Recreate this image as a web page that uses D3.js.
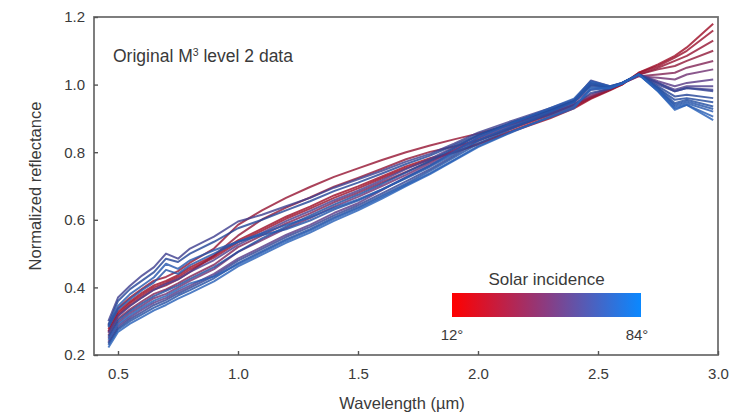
<!DOCTYPE html>
<html>
<head>
<meta charset="utf-8">
<script src="https://cdn.jsdelivr.net/npm/d3@7"></script>
<style>
  html, body { margin: 0; padding: 0; background: #fff; }
  svg { display: block; font-family: "Liberation Sans", Arial, Helvetica, sans-serif; }
</style>
</head>
<body>
<svg id="chart" width="735" height="413"></svg>
<script>
// Wavelength sampling (µm) shared by every spectrum
const wavelengths = [0.46, 0.50, 0.55, 0.60, 0.65, 0.70, 0.75, 0.80, 0.90, 1.00,
  1.10, 1.20, 1.30, 1.40, 1.50, 1.60, 1.70, 1.80, 1.90, 2.00,
  2.15, 2.30, 2.40, 2.47, 2.55, 2.60, 2.67, 2.75, 2.82, 2.87, 2.98];

// Solar incidence angle (degrees) of each spectrum
const incidence = [12, 18, 24, 30, 37, 44, 51, 55, 58, 61, 65, 69, 72, 75, 78, 81, 84];

// Normalized reflectance, one array per incidence angle
const r12 = [0.277,0.328,0.358,0.384,0.406,0.419,0.436,0.459,0.494,0.539,0.574,0.609,0.639,0.672,0.699,0.728,0.758,0.782,0.800,0.823,0.863,0.900,0.930,0.958,0.983,1.000,1.035,1.060,1.085,1.110,1.180];
const r18 = [0.270,0.322,0.353,0.378,0.400,0.413,0.430,0.453,0.488,0.533,0.568,0.603,0.633,0.665,0.693,0.723,0.753,0.778,0.799,0.825,0.866,0.904,0.933,0.960,0.985,1.000,1.035,1.055,1.080,1.100,1.160];
const r24 = [0.287,0.338,0.370,0.396,0.420,0.431,0.448,0.473,0.515,0.585,0.628,0.665,0.697,0.727,0.752,0.777,0.800,0.820,0.838,0.855,0.885,0.915,0.940,0.962,0.985,1.003,1.030,1.050,1.070,1.085,1.130];
const r30 = [0.268,0.317,0.347,0.371,0.394,0.406,0.424,0.446,0.494,0.553,0.601,0.636,0.666,0.698,0.724,0.751,0.779,0.801,0.817,0.835,0.872,0.910,0.938,0.962,0.985,1.003,1.030,1.045,1.055,1.070,1.100];
const r37 = [0.258,0.307,0.335,0.359,0.381,0.394,0.412,0.432,0.467,0.519,0.554,0.589,0.619,0.652,0.680,0.711,0.742,0.773,0.805,0.835,0.875,0.913,0.940,0.965,0.988,1.003,1.025,1.030,1.035,1.050,1.070];
const r44 = [0.249,0.296,0.324,0.346,0.368,0.381,0.400,0.419,0.454,0.505,0.540,0.575,0.605,0.639,0.668,0.700,0.733,0.768,0.809,0.839,0.878,0.915,0.943,0.970,0.990,1.003,1.025,1.020,1.015,1.030,1.045];
const r51 = [0.239,0.286,0.312,0.334,0.355,0.369,0.388,0.405,0.440,0.485,0.520,0.555,0.585,0.620,0.649,0.688,0.726,0.762,0.803,0.843,0.884,0.921,0.948,0.985,0.992,1.003,1.030,1.010,0.995,1.005,1.015];
const r55 = [0.265,0.315,0.345,0.370,0.393,0.410,0.424,0.446,0.481,0.526,0.561,0.596,0.626,0.658,0.686,0.717,0.750,0.780,0.815,0.848,0.887,0.923,0.950,0.998,0.993,1.004,1.030,1.005,0.985,0.995,0.995];
const r58 = [0.300,0.370,0.405,0.435,0.460,0.500,0.485,0.515,0.550,0.595,0.615,0.640,0.665,0.695,0.720,0.745,0.772,0.795,0.825,0.858,0.895,0.930,0.955,1.012,0.995,1.005,1.030,1.000,0.980,0.990,0.985];
const r61 = [0.235,0.280,0.306,0.327,0.348,0.363,0.382,0.399,0.434,0.479,0.514,0.549,0.579,0.613,0.643,0.678,0.714,0.750,0.790,0.832,0.876,0.912,0.940,0.975,0.988,1.003,1.030,1.005,0.980,0.990,0.980];
const r65 = [0.290,0.360,0.395,0.420,0.445,0.485,0.475,0.500,0.535,0.575,0.600,0.628,0.655,0.685,0.710,0.737,0.765,0.790,0.820,0.852,0.890,0.925,0.952,1.005,0.993,1.005,1.030,0.995,0.965,0.970,0.960];
const r69 = [0.254,0.302,0.330,0.353,0.374,0.390,0.406,0.425,0.460,0.505,0.545,0.580,0.612,0.645,0.674,0.706,0.740,0.774,0.812,0.850,0.890,0.925,0.952,1.000,0.993,1.004,1.030,0.990,0.955,0.960,0.948];
const r72 = [0.230,0.275,0.300,0.320,0.340,0.356,0.376,0.392,0.427,0.472,0.507,0.542,0.572,0.607,0.637,0.672,0.707,0.745,0.785,0.825,0.873,0.918,0.950,0.995,0.990,1.003,1.030,0.990,0.945,0.955,0.935];
const r75 = [0.282,0.335,0.365,0.392,0.415,0.452,0.440,0.466,0.500,0.535,0.555,0.572,0.598,0.630,0.657,0.690,0.723,0.757,0.795,0.835,0.880,0.920,0.947,1.005,0.993,1.004,1.030,0.985,0.940,0.950,0.928];
const r78 = [0.285,0.345,0.380,0.405,0.430,0.470,0.455,0.480,0.510,0.535,0.560,0.585,0.607,0.635,0.660,0.690,0.725,0.760,0.800,0.843,0.888,0.930,0.958,1.010,0.995,1.005,1.030,0.985,0.935,0.945,0.920];
const r81 = [0.245,0.291,0.318,0.340,0.361,0.375,0.394,0.412,0.432,0.468,0.503,0.538,0.568,0.603,0.633,0.668,0.703,0.738,0.777,0.818,0.864,0.903,0.930,0.990,0.990,1.003,1.030,0.980,0.930,0.940,0.905];
const r84 = [0.222,0.268,0.293,0.312,0.332,0.348,0.367,0.383,0.418,0.462,0.497,0.532,0.562,0.597,0.628,0.663,0.700,0.735,0.775,0.815,0.862,0.905,0.935,0.985,0.990,1.003,1.030,0.980,0.925,0.940,0.895];

const spectra = [r12, r18, r24, r30, r37, r44, r51, r55, r58, r61, r65, r69, r72, r75, r78, r81, r84];

// Axis ticks and labels
const xTicks = [0.5, 1.0, 1.5, 2.0, 2.5, 3.0];
const yTicks = [0.2, 0.4, 0.6, 0.8, 1.0, 1.2];
const incidenceRange = [12, 84];
const titleText = ["Original M", "3", " level 2 data"];

const svg = d3.select("#chart");
const plotL = 94, plotR = 718, plotT = 17, plotB = 355;
const textColor = "#3a3a3a";

const x = d3.scaleLinear().domain([0.4, 3.0]).range([plotL, plotR]);
const y = d3.scaleLinear().domain([0.2, 1.2]).range([plotB, plotT]);

// Line colour follows solar incidence: low = red, high = blue
const lineColor = d3.scaleLinear()
  .domain([12, 30, 48, 66, 84])
  .range(["#a0112a", "#931c3c", "#683984", "#22489a", "#2a62b8"])
  .interpolate(d3.interpolateRgb);

const line = d3.line()
  .x((d, i) => x(wavelengths[i]))
  .y(d => y(d));

const gLines = svg.append("g");
spectra.forEach((s, k) => {
  gLines.append("path")
    .datum(s)
    .attr("d", line)
    .attr("fill", "none")
    .attr("stroke", lineColor(incidence[k]))
    .attr("stroke-width", 2)
    .attr("stroke-opacity", 0.82)
    .attr("stroke-linejoin", "round");
});

// Frame
svg.append("rect")
  .attr("x", plotL).attr("y", plotT)
  .attr("width", plotR - plotL).attr("height", plotB - plotT)
  .attr("fill", "none").attr("stroke", "#707070").attr("stroke-width", 1.8);

const axisColor = "#555";
const xAxis = svg.append("g")
  .attr("transform", `translate(0,${plotB})`)
  .call(d3.axisBottom(x).tickValues(xTicks).tickFormat(d3.format(".1f"))
    .tickSizeInner(-4).tickSizeOuter(0).tickPadding(13));
const yAxis = svg.append("g")
  .attr("transform", `translate(${plotL},0)`)
  .call(d3.axisLeft(y).tickValues(yTicks).tickFormat(d3.format(".1f"))
    .tickSizeInner(-4).tickSizeOuter(0).tickPadding(9));
[xAxis, yAxis].forEach(g => {
  g.select(".domain").remove();
  g.selectAll("line").attr("stroke", axisColor).attr("stroke-width", 1.4);
  g.selectAll("text").attr("fill", textColor).style("font-size", "15px");
});

// Axis titles
svg.append("text")
  .attr("x", (plotL + plotR) / 2 - 4).attr("y", 409)
  .attr("text-anchor", "middle").attr("fill", textColor).style("font-size", "16.5px")
  .text("Wavelength (µm)");
svg.append("text")
  .attr("transform", `translate(41,${(plotT + plotB) / 2}) rotate(-90)`)
  .attr("text-anchor", "middle").attr("fill", textColor).style("font-size", "16.5px")
  .text("Normalized reflectance");

// Panel label
const t = svg.append("text")
  .attr("x", 113).attr("y", 62)
  .attr("fill", textColor).style("font-size", "17.5px");
t.append("tspan").text(titleText[0]);
t.append("tspan").attr("dy", -6).style("font-size", "10.5px").text(titleText[1]);
t.append("tspan").attr("dy", 6).text(titleText[2]);

// Colour bar legend
const defs = svg.append("defs");
const grad = defs.append("linearGradient").attr("id", "incGrad")
  .attr("x1", "0%").attr("x2", "100%").attr("y1", "0%").attr("y2", "0%");
[["0%", "#ff0000"], ["50%", "#8a3c82"], ["100%", "#0a88ff"]].forEach(([o, c]) =>
  grad.append("stop").attr("offset", o).attr("stop-color", c));

const barX0 = 452, barX1 = 641, barY = 293, barH = 24;
svg.append("rect")
  .attr("x", barX0).attr("y", barY).attr("width", barX1 - barX0).attr("height", barH)
  .attr("fill", "url(#incGrad)");
svg.append("text")
  .attr("x", (barX0 + barX1) / 2).attr("y", 285)
  .attr("text-anchor", "middle").attr("fill", textColor).style("font-size", "17px")
  .text("Solar incidence");
const incScale = d3.scaleLinear().domain(incidenceRange).range([barX0, barX1 - 4]);
incidenceRange.forEach(v => {
  svg.append("text")
    .attr("x", incScale(v)).attr("y", 340)
    .attr("text-anchor", "middle").attr("fill", textColor).style("font-size", "15px")
    .text(v + "°");
});
</script>
</body>
</html>
